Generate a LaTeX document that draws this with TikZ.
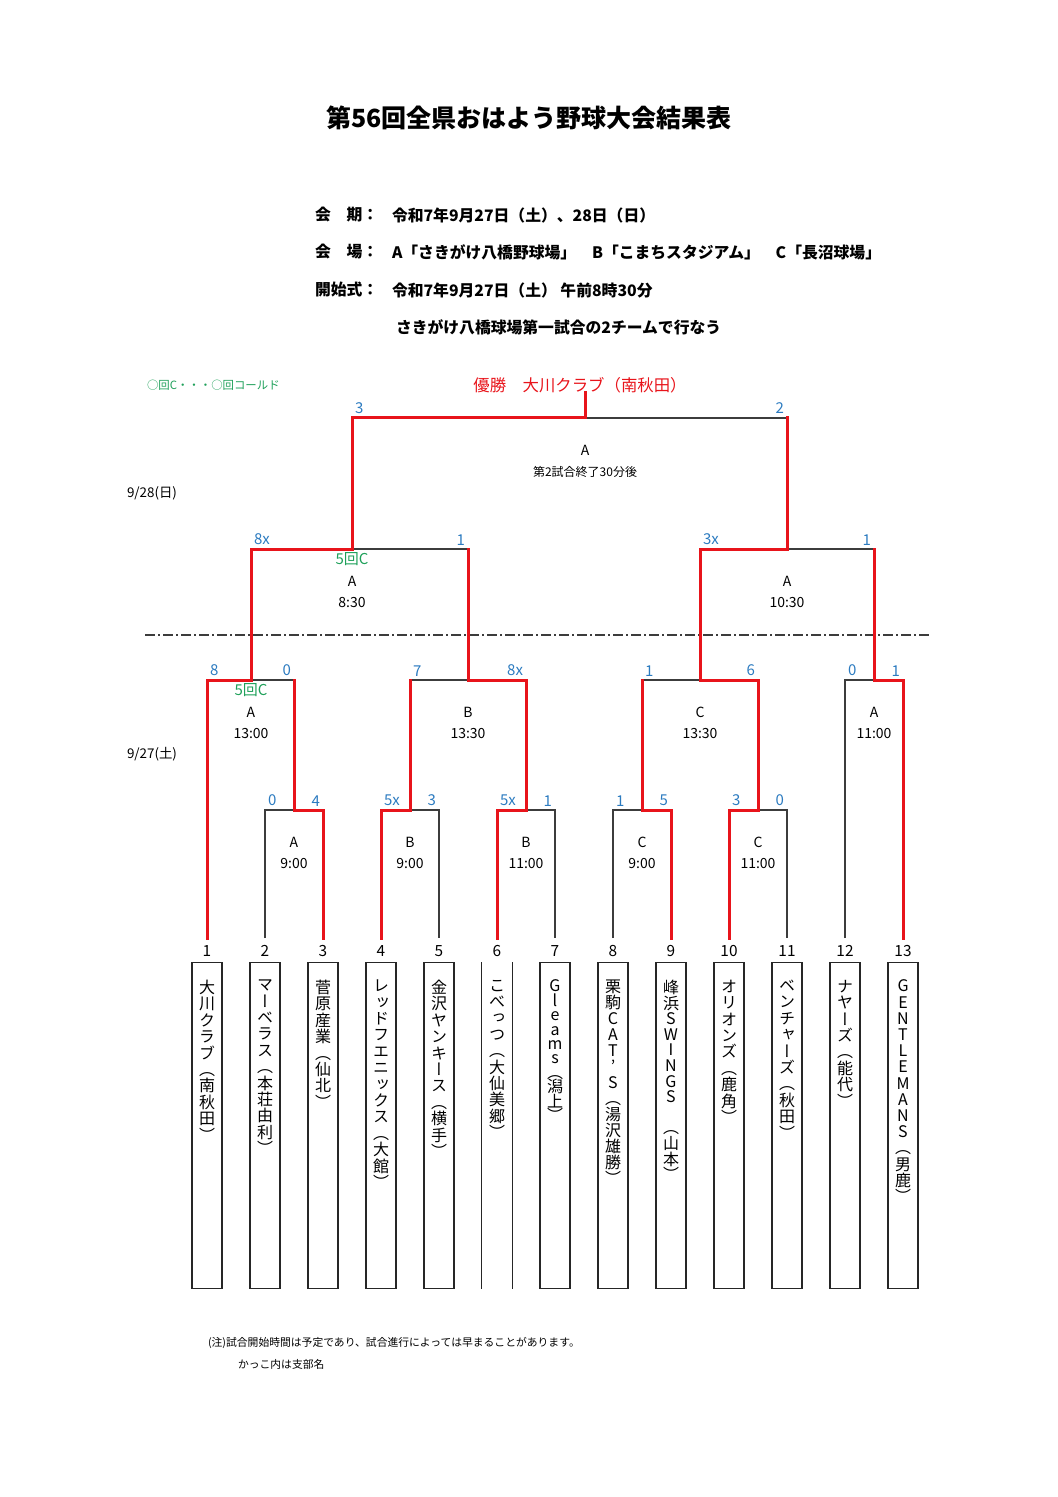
\documentclass[tikz,border=0pt]{standalone}
\usepackage{fontspec}
\setmainfont{Noto Sans CJK JP}
\newfontfamily\tatefont[RawFeature=+vert]{Noto Sans CJK JP}
\usetikzlibrary{calc}

\definecolor{winred}{HTML}{E8141B}
\definecolor{scoreblue}{HTML}{2C7BC0}
\definecolor{coldgreen}{HTML}{1FA05A}
\definecolor{linegray}{HTML}{3C3C3C}

% vertical team names, one glyph per line
\newcommand\tate[2][8.2pt]{\vbox{\tatefont\fontsize{8pt}{#1}\selectfont
  \baselineskip=#1\lineskiplimit=-\maxdimen\lineskip=0pt\expandafter\tateloop#2\relax}}
\def\tateloop#1{\ifx\relax#1\else\hbox to 1em{\hss#1\hss}\expandafter\tateloop\fi}

\tikzset{
    bline/.style={draw=linegray, line width=0.65pt},
    win/.style={draw=winred, line width=1.5pt, line cap=rect},
    boxline/.style={draw=black!85, line width=0.7pt},
    txt/.style={inner sep=0pt, outer sep=0pt},
    title/.style={txt, font=\bfseries\fontsize{12.5pt}{14pt}\selectfont},
    head/.style={txt, anchor=west, font=\bfseries\fontsize{7.9pt}{9pt}\selectfont},
    score/.style={txt, text=scoreblue, font=\fontsize{7.5pt}{8pt}\selectfont},
    scoreL/.style={score, anchor=south west, xshift=1.5pt, yshift=2pt},
    scoreR/.style={score, anchor=south east, xshift=-1.5pt, yshift=2pt},
    info/.style={txt, font=\fontsize{7pt}{8pt}\selectfont},
    cold/.style={txt, text=coldgreen, font=\fontsize{7.5pt}{8pt}\selectfont},
    champ/.style={txt, text=winred, font=\fontsize{8.2pt}{9pt}\selectfont},
    legend/.style={txt, anchor=west, text=coldgreen, font=\fontsize{5.7pt}{6pt}\selectfont},
    date/.style={txt, anchor=west, font=\fontsize{6.7pt}{7pt}\selectfont},
    num/.style={txt, font=\fontsize{7.7pt}{8pt}\selectfont},
    note/.style={txt, anchor=west, font=\fontsize{5.4pt}{6pt}\selectfont},
    teambox/.style={boxline, minimum width=15pt, minimum height=163pt, anchor=north, inner sep=0pt},
    openbox/.style={teambox, draw=none},
    teamname/.style={txt, anchor=north},
    sepline/.style={draw=linegray, line width=0.6pt, dash pattern=on 5pt off 1.5pt on 1pt off 1.5pt}
}

\begin{document}
\begin{tikzpicture}[x=0.5pt, y=-0.5pt]
\useasboundingbox (0,0) rectangle (1058,1497);

\node[title] (title) at (529,118) {第56回全県おはよう野球大会結果表};

\node[head] (k1) at (315,215) {会　期：};
\node[head] (v1) at (392,215) {令和7年9月27日（土）、28日（日）};
\node[head] (k2) at (315,252) {会　場：};
\node[head] (v2) at (392,252) {A「さきがけ八橋野球場」　B「こまちスタジアム」　C「長沼球場」};
\node[head] (k3) at (315,290) {開始式：};
\node[head] (v3) at (392,290) {令和7年9月27日（土）\ 午前8時30分};
\node[head] (v4) at (396,327) {さきがけ八橋球場第一試合の2チームで行なう};

\node[legend] (legend) at (147,385) {○回C・・・○回コールド};
\node[champ] (champ) at (580,385) {優勝　大川クラブ（南秋田）};
\node[date] (d28) at (127,493) {9/28(日)};
\node[date] (d27) at (127,754) {9/27(土)};

\coordinate (sepL) at (145,635);
\coordinate (sepR) at (930,635);
\draw[sepline] (sepL) -- (sepR);

% leaves
\foreach \i in {1,...,13}
    \coordinate (l\i) at ({207+58*(\i-1)},938);

% matches
\coordinate (r1a) at (294,810);
\coordinate (r1b) at (410,810);
\coordinate (r1c) at (526,810);
\coordinate (r1d) at (642,810);
\coordinate (r1e) at (758,810);
\coordinate (r2a) at (251,680);
\coordinate (r2b) at (468,680);
\coordinate (r2c) at (700,680);
\coordinate (r2d) at (874,680);
\coordinate (r3a) at (352,549);
\coordinate (r3b) at (787,549);
\coordinate (fin) at (585,418);

\foreach \a/\m/\b in {l2/r1a/l3, l4/r1b/l5, l6/r1c/l7, l8/r1d/l9, l10/r1e/l11,
        l1/r2a/r1a, r1b/r2b/r1c, r1d/r2c/r1e, l12/r2d/l13,
        r2a/r3a/r2b, r2c/r3b/r2d, r3a/fin/r3b}
    \draw[bline] (\a) |- (\m) -| (\b);

% winners
\foreach \w/\m in {l3/r1a, l4/r1b, l6/r1c, l9/r1d, l10/r1e, l1/r2a, r1c/r2b,
        r1e/r2c, l13/r2d, r2a/r3a, r2c/r3b, r3a/fin}
    \draw[win] (\w) |- (\m);
\foreach \c/\m in {r1a/r2a, r1b/r2b, r1d/r2c, r2b/r3a, r2d/r3b, r3b/fin}
    \draw[win] (\c) -- (\c |- \m);
\draw[win] (fin) -- (fin |- champ.south);

% scores
\foreach \c/\m/\s/\side in {l2/r1a/0/L, l3/r1a/4/R, l4/r1b/5x/L, l5/r1b/3/R,
        l6/r1c/5x/L, l7/r1c/1/R, l8/r1d/1/L, l9/r1d/5/R, l10/r1e/3/L, l11/r1e/0/R,
        l1/r2a/8/L, r1a/r2a/0/R, r1b/r2b/7/L, r1c/r2b/8x/R, r1d/r2c/1/L, r1e/r2c/6/R,
        l12/r2d/0/L, l13/r2d/1/R, r2a/r3a/8x/L, r2b/r3a/1/R, r2c/r3b/3x/L, r2d/r3b/1/R,
        r3a/fin/3/L, r3b/fin/2/R}
    \node[score\side] (s-\c) at (\c |- \m) {\s};

% venue and time
\foreach \m/\v/\t in {r1a/A/9:00, r1b/B/9:00, r1c/B/11:00, r1d/C/9:00, r1e/C/11:00,
        r2a/A/13:00, r2b/B/13:30, r2c/C/13:30, r2d/A/11:00, r3a/A/8:30, r3b/A/10:30}
{
    \node[info] (v-\m) at ($(\m)+(0,32)$) {\v};
    \node[info] (t-\m) at ($(\m)+(0,54)$) {\t};
}
\node[info] (v-fin) at ($(fin)+(0,32)$) {A};
\node[info, font=\fontsize{6pt}{7pt}\selectfont] (t-fin) at ($(fin)+(0,54)$) {第2試合終了30分後};
\node[cold] (c-r2a) at ($(r2a)+(0,10)$) {5回C};
\node[cold] (c-r3a) at ($(r3a)+(0,10)$) {5回C};

% teams
\foreach \name/\sp/\bx [count=\i] in {
        大川クラブ（南秋田）/8.2pt/teambox,
        マーベラス（本荘由利）/8.2pt/teambox,
        菅原産業（仙北）/8.2pt/teambox,
        レッドフエニックス（大館）/8.2pt/teambox,
        金沢ヤンキース（横手）/8.2pt/teambox,
        こべっつ（大仙美郷）/8.2pt/openbox,
        Gleams（潟上）/7.2pt/teambox,
        栗駒CAT’S（湯沢雄勝）/8pt/teambox,
        峰浜SWINGS{\ }（山本）/7.8pt/teambox,
        オリオンズ（鹿角）/8.2pt/teambox,
        ベンチャーズ（秋田）/8.2pt/teambox,
        ナヤーズ（能代）/8.2pt/teambox,
        GENTLEMANS（男鹿）/8.1pt/teambox}
{
    \node[num] (n\i) at ({207+58*(\i-1)},951) {\i};
    \node[\bx] (team\i) at ({207+58*(\i-1)},962) {};
    \node[teamname] (name\i) at ({207+58*(\i-1)},980) {\tate[\sp]{\name}};
}
\draw[boxline] (team6.north west) -- (team6.south west)
    (team6.north east) -- (team6.south east);

\node[note] (note1) at (208,1343) {(注)試合開始時間は予定であり、試合進行によっては早まることがあります。};
\node[note] (note2) at (238,1364) {かっこ内は支部名};
\end{tikzpicture}
\end{document}
